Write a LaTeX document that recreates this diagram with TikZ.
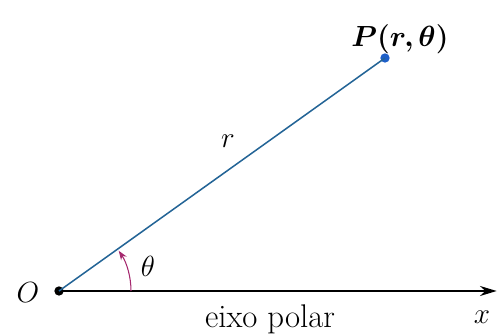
\documentclass[tikz,border=0pt]{standalone}
\usepackage{amsmath,amssymb}
\usepackage{bm}
\usepackage{tikz}
\usetikzlibrary{arrows.meta,positioning,calc}
\usepackage{xcolor}
\definecolor{raioblue}{RGB}{35,100,150}
\definecolor{dotblue}{RGB}{30,95,200}
\definecolor{arcpurple}{RGB}{165,40,110}

\begin{document}
\begin{tikzpicture}[
    lbl/.style={font=\fontsize{28}{32}\selectfont, inner sep=1pt},
    pt/.style={circle, fill, inner sep=0pt, minimum size=2.8mm},
    eixo/.style={-{Stealth[length=5mm, width=3mm]}, line width=1.6pt, black},
    raio/.style={raioblue, line width=1.3pt},
    angarr/.style={-{Stealth[length=2.8mm, width=2mm]}, arcpurple, line width=0.9pt}]

    \useasboundingbox (0,0) rectangle (15.03,10.08);

    % polo, ponto e eixo
    \node[pt, black] (O) at (1.77,1.35) {};
    \node[pt, dotblue] (P) at (11.55,8.34) {};
    \coordinate (xend) at (14.9,1.35);

    \draw[eixo] (O.center) -- (xend);
    \draw[raio] (O.center) -- (P.center);
    \draw[angarr] ($(O.center)+(2.16,0)$) arc[start angle=0, end angle=34, radius=2.16];

    % rotulos
    \node[lbl] (Olbl) at (0.84,1.3) {$O$};
    \node[lbl] (Plbl) at (12.0,8.9) {$\bm{P(r,\theta)}$};
    \node[lbl] (rlbl) at (6.84,5.85) {$r$};
    \node[lbl] (thlbl) at (4.44,2.1) {$\theta$};
    \node[lbl] (eixolbl) at (8.1,0.5) {eixo polar};
    \node[lbl] (xlbl) at (14.46,0.55) {$x$};
\end{tikzpicture}
\end{document}
